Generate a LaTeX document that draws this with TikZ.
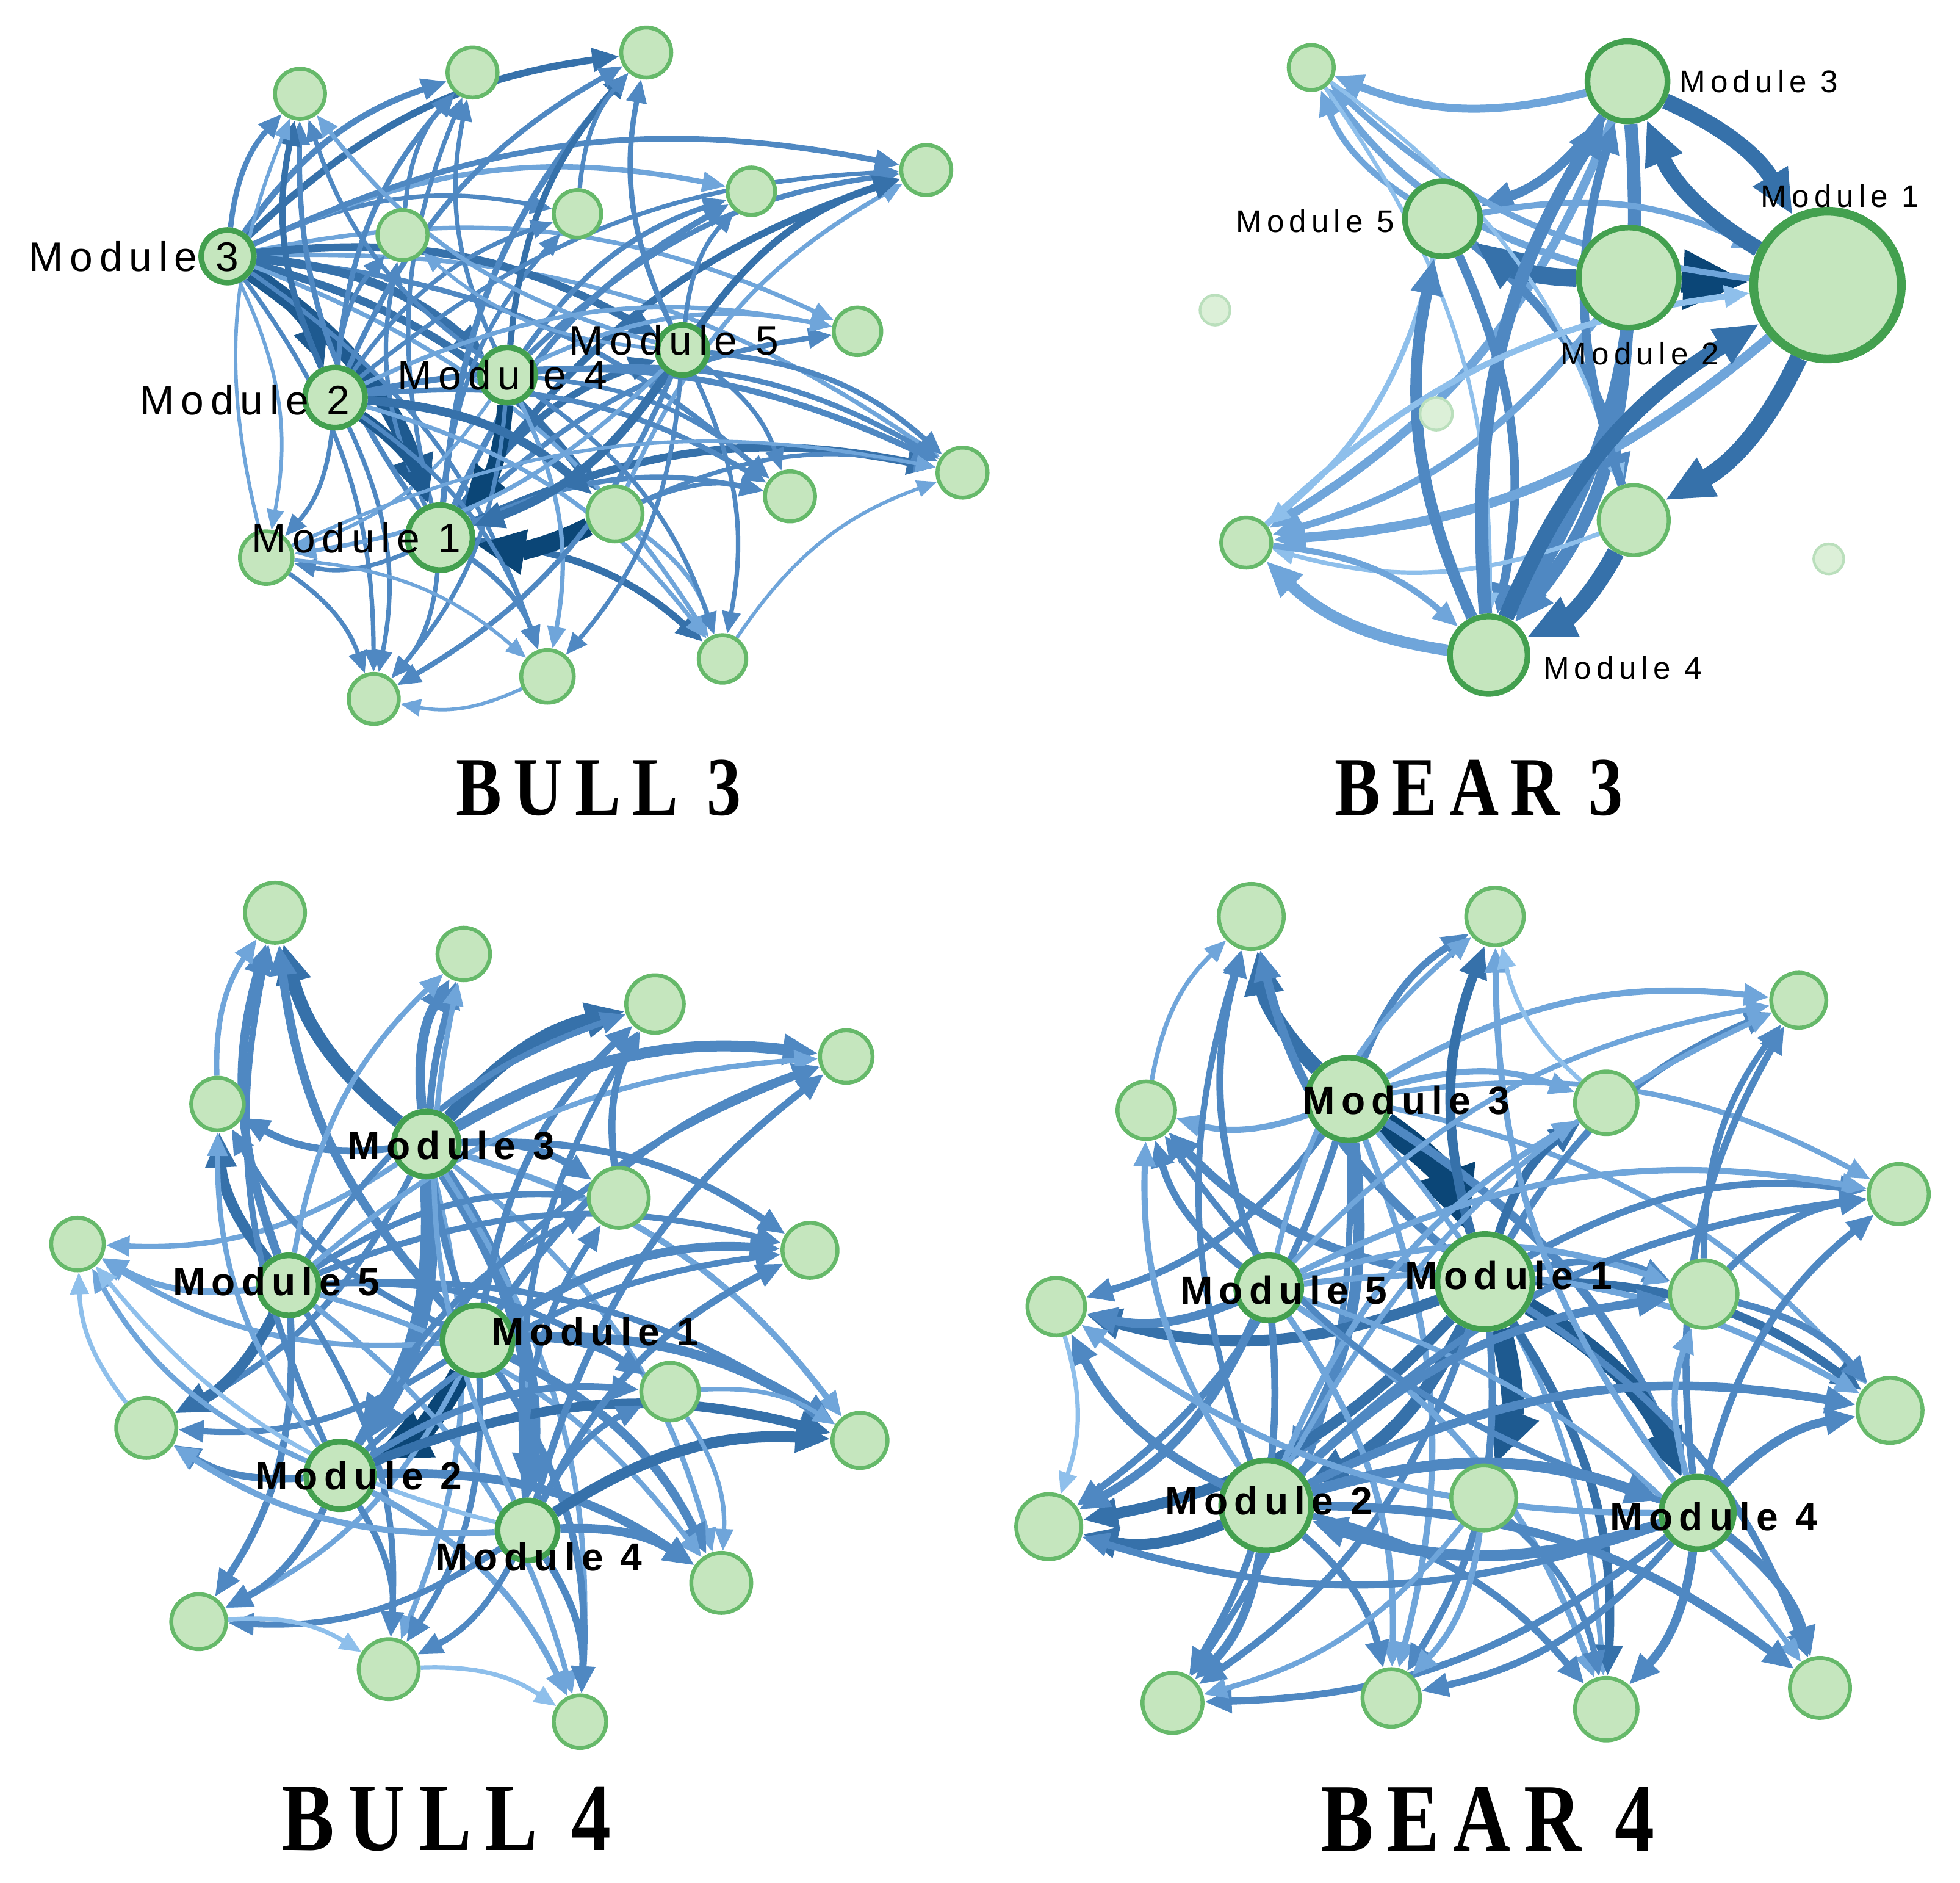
\documentclass[tikz,border=0pt]{standalone}
\usepackage{fontspec}
\newfontfamily\labfont[LetterSpace=16]{Liberation Sans}
\newfontfamily\titfont[LetterSpace=14,FakeStretch=0.82]{Liberation Serif}
\usetikzlibrary{arrows.meta,backgrounds}
\definecolor{k1}{HTML}{8EBFEB}
\definecolor{k2}{HTML}{6FA5DA}
\definecolor{k3}{HTML}{4F88C2}
\definecolor{k4}{HTML}{3671AA}
\definecolor{k5}{HTML}{1E5A90}
\definecolor{k6}{HTML}{0B4677}
\definecolor{nfill}{HTML}{C5E6BE}
\definecolor{nline}{HTML}{66B96A}
\definecolor{mline}{HTML}{43A04F}
\tikzset{
  nd/.style={circle,draw=nline,fill=nfill,line width=0.9pt,minimum size=#1*0.2mm,inner sep=0pt},
  md/.style={nd=#1,draw=mline,line width=1.3pt},
  iso/.style={nd=#1,draw=nline!45,fill=nfill!60,line width=0.6pt},
  lnk/.style={-{Stealth[inset=0pt,length=3pt 2,width=2.4pt 1.7]},bend left=18},
  labA/.style={inner sep=0pt,font=\labfont\fontsize{9.4}{11}\selectfont},
  labB/.style={inner sep=0pt,font=\labfont\fontsize{7.1}{8}\selectfont},
  labC/.style={inner sep=0pt,font=\labfont\bfseries\fontsize{8.9}{10}\selectfont},
  titA/.style={inner sep=0pt,font=\titfont\bfseries\fontsize{19}{22}\selectfont},
  titB/.style={inner sep=0pt,font=\titfont\bfseries\fontsize{22}{26}\selectfont},
}
\newcommand\myhub[2]{\foreach \t/\w/\c in {#2}{\draw[lnk,line width=\w pt,draw=\c] (#1) to (\t);}}
\begin{document}
\begin{tikzpicture}[x=0.01cm,y=-0.01cm]
\path[use as bounding box] (0,0) rectangle (1568,1506);
% ================= BULL 3 =================
\node[nd=20] (a1) at (240,75) {};
\node[nd=20] (a2) at (378,58) {};
\node[nd=20] (a3) at (517,42) {};
\node[nd=20] (a4) at (741,136) {};
\node[nd=19] (a5) at (601,153) {};
\node[nd=19] (a6) at (462,171) {};
\node[nd=20] (a7) at (322,188) {};
\node[md=21] (aM3) at (182,205) {};
\node[nd=19] (a8) at (686,265) {};
\node[md=20] (aM5) at (546,280) {};
\node[md=22] (aM4) at (406,300) {};
\node[md=24] (aM2) at (268,318) {};
\node[nd=20] (a9) at (770,378) {};
\node[nd=20] (a10) at (632,397) {};
\node[nd=22] (a11) at (492,411) {};
\node[md=26] (aM1) at (352,430) {};
\node[nd=21] (a12) at (213,446) {};
\node[nd=19] (a13) at (578,527) {};
\node[nd=21] (a14) at (438,541) {};
\node[nd=20] (a15) at (299,559) {};
% ================= BEAR 3 =================
\node[nd=18] (b1) at (1049,54) {};
\node[md=32] (bM3) at (1302,65) {};
\node[md=30] (bM5) at (1154,175) {};
\node[md=40] (bM2) at (1303,222) {};
\node[md=59,line width=2pt] (bM1) at (1462,228) {};
\node[iso=12] (bi1) at (972,248) {};
\node[iso=13] (bi2) at (1149,331) {};
\node[nd=20] (b2) at (997,434) {};
\node[nd=28] (b3) at (1307,416) {};
\node[iso=12] (bi3) at (1463,447) {};
\node[md=31] (bM4) at (1191,524) {};
% ================= BULL 4 =================
\node[nd=24] (p1) at (220,730) {};
\node[nd=21] (p2) at (371,763) {};
\node[nd=23] (p3) at (524,803) {};
\node[nd=21] (p4) at (677,845) {};
\node[nd=21] (p5) at (174,883) {};
\node[md=26] (pM3) at (341,915) {};
\node[nd=24] (p6) at (495,958) {};
\node[nd=21] (p7) at (62,995) {};
\node[nd=22] (p8) at (648,1000) {};
\node[md=24] (pM5) at (231,1028) {};
\node[md=28] (pM1) at (382,1072) {};
\node[nd=23] (p9) at (536,1113) {};
\node[nd=24] (p10) at (117,1142) {};
\node[nd=22] (p11) at (688,1152) {};
\node[md=27] (pM2) at (272,1180) {};
\node[md=24] (pM4) at (422,1224) {};
\node[nd=24] (p12) at (577,1266) {};
\node[nd=22] (p13) at (159,1297) {};
\node[nd=24] (p14) at (311,1335) {};
\node[nd=21] (p15) at (464,1377) {};
% ================= BEAR 4 =================
\node[nd=26] (q1) at (1001,733) {};
\node[nd=23] (q2) at (1196,733) {};
\node[nd=22] (q3) at (1439,800) {};
\node[md=33] (qM3) at (1079,879) {};
\node[nd=23] (q4) at (917,888) {};
\node[nd=25] (q5) at (1285,882) {};
\node[nd=24] (q6) at (1519,955) {};
\node[md=26] (qM5) at (1015,1030) {};
\node[md=38] (qM1) at (1188,1025) {};
\node[nd=27] (q7) at (1363,1035) {};
\node[nd=23] (q8) at (845,1045) {};
\node[nd=26] (q9) at (1512,1128) {};
\node[md=36] (qM2) at (1013,1204) {};
\node[nd=26] (q10) at (1187,1198) {};
\node[md=29] (qM4) at (1358,1210) {};
\node[nd=26] (q11) at (839,1221) {};
\node[nd=24] (q12) at (938,1362) {};
\node[nd=23] (q13) at (1113,1358) {};
\node[nd=25] (q14) at (1285,1367) {};
\node[nd=24] (q15) at (1456,1350) {};
% ================= EDGES =================
\begin{scope}[on background layer]
\fill[white] (0,0) rectangle (1568,1506);
% BULL 3
\myhub{aM3}{a1/1.2/k3,a2/1.4/k3,a3/1.6/k4,a6/1.0/k3,a5/1.2/k2,a4/1.3/k3,a8/1.0/k2,a9/1.0/k2,a10/1.2/k3,a11/1.8/k4,aM1/4.0/k5,aM2/3.0/k5,aM4/2.0/k4,aM5/1.8/k4,a12/0.8/k2,a15/1.0/k3,a14/1.0/k3,a13/1.0/k2}
\myhub{aM1}{a13/1.6/k4,a14/1.2/k3,a15/1.0/k3,a9/1.8/k4,a10/1.2/k3,a4/1.6/k4,a5/1.4/k3,a3/1.4/k3,a8/1.2/k3,a2/1.0/k3,a1/1.2/k3,a6/1.0/k3,a7/1.0/k3,a12/1.0/k3,aM5/1.6/k4}
\myhub{a11}{aM1/4.2/k6,a9/1.0/k3,a10/1.0/k3,a4/1.0/k2,a13/1.0/k2}
\myhub{aM4}{aM1/3.6/k6,a3/1.4/k4,a2/1.0/k3,a4/1.2/k3,a5/1.2/k3,a9/1.2/k3,a10/1.0/k3,a8/1.0/k2,a15/1.0/k3,a13/1.0/k3,a14/1.0/k2,a1/1.0/k3,a12/0.8/k2}
\myhub{aM2}{aM1/2.6/k5,a1/1.4/k4,a2/1.2/k3,a3/1.2/k3,a7/1.0/k3,a6/1.0/k3,a4/1.0/k3,a9/1.4/k3,a10/1.2/k3,a11/2.0/k4,a12/1.0/k3,a14/1.0/k3,a15/1.0/k3,a13/1.0/k2,a8/1.0/k2}
\myhub{aM5}{aM1/2.0/k4,a4/1.6/k4,a5/1.0/k3,a3/1.2/k3,a9/1.2/k3,a10/1.0/k3,a13/1.0/k3,a14/1.0/k3,a15/1.2/k3,a12/1.0/k2,a1/1.0/k2,a7/0.8/k2}
\myhub{a12}{a15/1.0/k3,a14/0.8/k2,a9/0.8/k2,a1/0.8/k2}
\myhub{a14}{a15/0.8/k2}
\myhub{a13}{a9/0.8/k2}
\myhub{a7}{a2/1.0/k3}
\myhub{a6}{a3/1.0/k3}
% BEAR 3
\myhub{bM3}{b1/1.8/k2,bM1/3.6/k4,bM5/2.2/k3,b2/2.0/k2,bM4/3.0/k3}
\myhub{bM5}{b1/1.4/k2,b2/1.2/k1,bM4/2.0/k3,b3/2.0/k3,bM1/1.4/k2}
\myhub{bM2}{b1/1.6/k2,bM5/4.0/k4,b2/1.6/k2,bM4/3.0/k3}
\draw[lnk,bend left=0,line width=6pt,draw=k6] (bM2) to (bM1);
\myhub{bM1}{b1/1.4/k2,bM3/3.6/k4,b2/2.2/k2,b3/4.0/k4}
\myhub{b1}{bM4/0.9/k1,b3/0.9/k1}
\myhub{b3}{b2/1.0/k1,bM3/2.0/k3,bM4/4.0/k4}
\myhub{bM4}{b2/2.6/k2,bM5/2.6/k3,bM3/3.0/k3,bM1/3.6/k4}
\myhub{b2}{bM1/1.4/k1,bM4/1.4/k2}
% BULL 4
\myhub{pM3}{p1/3.0/k4,p2/2.2/k3,p3/3.0/k4,p4/2.5/k3,p5/1.6/k3,p6/1.6/k3,p7/1.2/k2,p8/1.6/k3,p10/1.4/k3,p11/1.4/k2,pM2/4.0/k3,pM4/3.5/k3,p14/1.2/k2,p15/1.2/k2,p12/1.2/k2}
\myhub{pM1}{pM2/5.0/k6,p1/2.0/k3,p2/1.6/k3,p3/1.6/k3,p4/1.6/k3,p8/2.0/k3,p11/2.2/k3,p12/2.0/k3,p15/1.6/k3,p14/1.4/k3,p13/1.2/k2,p10/1.4/k3,p7/1.2/k2,p5/1.4/k3,p9/1.6/k3}
\myhub{pM5}{p1/2.0/k3,p5/2.5/k4,p7/1.4/k2,p10/2.5/k4,p13/1.6/k3,p14/1.4/k3,p15/1.2/k2,p12/1.2/k2,p11/1.4/k3,p9/1.4/k3,p8/1.4/k3,p6/1.4/k3,p3/1.4/k3,p2/1.2/k2,p4/1.2/k2}
\myhub{pM2}{p7/1.2/k2,p10/1.6/k3,p13/1.6/k3,p14/1.4/k3,p15/1.4/k2,p12/2.0/k3,p11/2.2/k4,p9/1.6/k3,p8/1.4/k3,p4/1.4/k3,p6/1.4/k3,p1/1.4/k3,p5/1.2/k2}
\myhub{pM4}{p11/2.5/k4,p12/2.0/k3,p15/1.6/k3,p14/1.4/k3,p13/1.4/k3,p10/1.4/k2,p9/1.4/k3,p8/1.6/k3,p4/1.6/k3,p6/1.4/k3,p3/1.4/k3,p2/1.2/k2,p7/1.0/k1}
\myhub{p5}{p1/1.2/k2}
\myhub{p6}{p3/1.6/k3}
\myhub{p9}{p11/1.0/k2,p12/1.0/k2}
\myhub{p13}{p14/1.0/k1}
\myhub{p10}{p7/1.0/k1}
\myhub{p14}{p15/1.0/k1}
% BEAR 4
\myhub{qM3}{qM1/6.0/k6,q1/3.5/k4,q2/1.6/k3,q4/1.4/k2,q5/1.4/k2,q3/1.4/k2,q8/1.6/k3,qM2/2.5/k3,q11/1.6/k3,q12/1.4/k3,q13/1.4/k2,q14/1.2/k2,qM4/2.0/k3,q9/1.2/k2,q6/1.2/k2}
\myhub{qM1}{q10/5.0/k5,qM4/4.0/k5,qM2/3.0/k4,q1/2.0/k3,q2/2.2/k4,q3/1.6/k3,q4/2.0/k3,q5/2.0/k4,q6/1.6/k3,q8/2.5/k4,q9/2.0/k4,q11/2.5/k4,q12/1.6/k3,q13/1.6/k3,q14/2.0/k4,q15/1.6/k3,q7/1.6/k3}
\myhub{qM5}{q1/1.6/k3,q4/1.6/k3,q8/2.0/k3,q11/2.0/k3,q12/1.6/k3,q13/1.4/k2,q14/1.4/k2,q15/1.2/k2,q9/1.4/k2,q6/1.4/k2,q3/1.2/k2,q2/1.2/k2,q7/1.4/k2}
\myhub{qM2}{q11/2.5/k4,q8/2.0/k3,q12/2.0/k3,q13/1.6/k3,q14/1.6/k3,q15/2.0/k3,q9/2.0/k3,q6/1.6/k3,q7/2.0/k3,q5/1.4/k2,q4/1.4/k2,q1/1.4/k3,q3/1.2/k2,qM4/2.5/k3}
\myhub{qM4}{q15/2.0/k3,q14/2.0/k3,q9/2.0/k3,q6/1.6/k3,q13/1.6/k3,q12/1.6/k3,q11/1.6/k3,q8/1.4/k2,q4/1.4/k3,q3/1.6/k3,q2/1.4/k2,q7/1.4/k2,qM2/2.5/k3}
\myhub{q7}{q9/1.6/k3,q6/1.6/k3,q3/1.4/k3}
\myhub{q10}{q13/1.4/k2,q14/1.4/k3,q12/1.2/k2}
\myhub{q5}{q2/1.0/k1}
\myhub{q4}{q1/1.0/k2}
\myhub{q8}{q11/1.0/k1}
\end{scope}
% ================= LABELS =================
\node[labA] (laM3) at (107,205) {Module 3};
\node[labA] (laM2) at (196,320) {Module 2};
\node[labA] (laM4) at (402,300) {Module 4};
\node[labA] (laM5) at (539,272) {Module 5};
\node[labA] (laM1) at (285,430) {Module 1};
\node[labB] (lbM3) at (1407,65) {Module 3};
\node[labB] (lbM1) at (1472,157) {Module 1};
\node[labB] (lbM5) at (1052,177) {Module 5};
\node[labB] (lbM2) at (1312,283) {Module 2};
\node[labB] (lbM4) at (1298,534) {Module 4};
\node[labC] (lpM3) at (361,916) {Module 3};
\node[labC] (lpM5) at (221,1025) {Module 5};
\node[labC] (lpM1) at (476,1065) {Module 1};
\node[labC] (lpM2) at (287,1180) {Module 2};
\node[labC] (lpM4) at (431,1245) {Module 4};
\node[labC] (lqM3) at (1125,880) {Module 3};
\node[labC] (lqM5) at (1027,1032) {Module 5};
\node[labC] (lqM1) at (1207,1020) {Module 1};
\node[labC] (lqM2) at (1015,1200) {Module 2};
\node[labC] (lqM4) at (1371,1213) {Module 4};
\node[titA] (t1) at (479,630) {BULL 3};
\node[titA] (t2) at (1183,630) {BEAR 3};
\node[titB] (t3) at (357,1455) {BULL 4};
\node[titB] (t4) at (1190,1455) {BEAR 4};
\end{tikzpicture}
\end{document}
